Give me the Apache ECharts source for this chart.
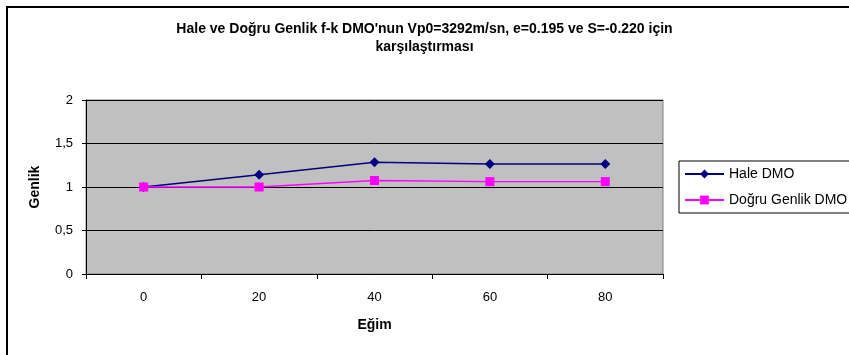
<!DOCTYPE html>
<html><head><meta charset="utf-8">
<script src="https://cdn.jsdelivr.net/npm/echarts@6/dist/echarts.min.js"></script>
<style>html,body{margin:0;padding:0;background:#fff}#c{width:849px;height:355px}</style>
</head><body><div id="c"></div>
<script>
const categories = ['0', '20', '40', '60', '80'];
const haleDMO = [1.0, 1.14, 1.285, 1.265, 1.265];
const dogruGenlikDMO = [1.0, 1.0, 1.075, 1.062, 1.062];
const yTicks = {min: 0, max: 2, interval: 0.5};
const seriesNames = ['Hale DMO', 'Doğru Genlik DMO'];

const chart = echarts.init(document.getElementById('c'), null, {renderer: 'canvas'});
const F = 'Arial, "Liberation Sans", sans-serif';
chart.setOption({
  animation: false,
  backgroundColor: '#fff',
  title: {
    text: "Hale ve Doğru Genlik f-k DMO'nun Vp0=3292m/sn, e=0.195 ve S=-0.220 için\nkarşılaştırması",
    left: 'center', top: 15,
    textStyle: {fontFamily: F, fontSize: 14, fontWeight: 'bold', color: '#000', lineHeight: 18}
  },
  graphic: [{
    type: 'rect', shape: {x: 7, y: 7, width: 900, height: 400},
    style: {fill: 'none', stroke: '#000', lineWidth: 2}, silent: true, z: 100
  }],
  legend: {
    orient: 'vertical', left: 679, top: 161,
    data: seriesNames,
    itemWidth: 39, itemHeight: 11, itemGap: 12,
    padding: [6, 30, 6, 5],
    borderColor: '#000', borderWidth: 1,
    textStyle: {fontFamily: F, fontSize: 14, color: '#000'}
  },
  grid: {left: 86, right: 186, top: 100, bottom: 81, show: true,
         backgroundColor: '#C0C0C0', borderColor: '#808080', borderWidth: 1},
  xAxis: {
    type: 'category', data: categories, boundaryGap: true,
    name: 'Eğim', nameLocation: 'middle', nameGap: 44,
    nameTextStyle: {fontFamily: F, fontSize: 14, fontWeight: 'bold', color: '#000'},
    axisLine: {lineStyle: {color: '#000', width: 1}},
    axisTick: {show: true, length: 5, lineStyle: {color: '#000'}},
    axisLabel: {fontFamily: F, fontSize: 13, color: '#000', margin: 17}
  },
  yAxis: {
    type: 'value', min: yTicks.min, max: yTicks.max, interval: yTicks.interval,
    name: 'Genlik', nameLocation: 'middle', nameGap: 44, nameRotate: 90,
    nameTextStyle: {fontFamily: F, fontSize: 14, fontWeight: 'bold', color: '#000'},
    axisLine: {show: true, lineStyle: {color: '#000', width: 1}},
    axisTick: {show: true, length: 4, lineStyle: {color: '#000'}},
    axisLabel: {fontFamily: F, fontSize: 13, color: '#000', margin: 13,
                formatter: v => String(v).replace('.', ',')},
    splitLine: {show: true, lineStyle: {color: '#000', width: 1}}
  },
  series: [
    {name: seriesNames[0], type: 'line', data: haleDMO, symbol: 'diamond', symbolSize: 10,
     color: '#000080', lineStyle: {width: 1.4, color: '#000080'}, itemStyle: {color: '#000080'}, z: 2},
    {name: seriesNames[1], type: 'line', data: dogruGenlikDMO, symbol: 'rect', symbolSize: 9,
     color: '#FF00FF', lineStyle: {width: 1.4, color: '#FF00FF'}, itemStyle: {color: '#FF00FF'}, z: 3}
  ]
});
</script></body></html>
